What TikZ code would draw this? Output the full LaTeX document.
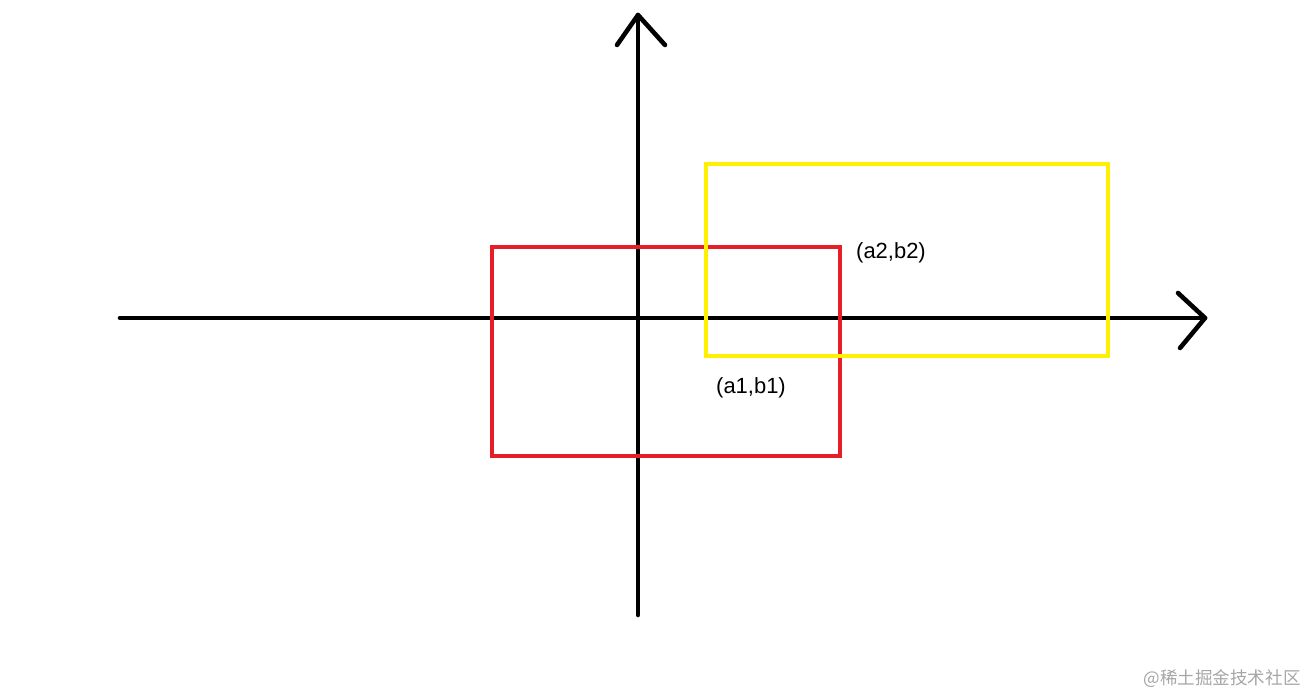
\documentclass[tikz,border=0pt]{standalone}
\usepackage{fontspec}
\setmainfont{Liberation Sans}
\newfontfamily\cjkfont{Noto Sans CJK SC}
\usetikzlibrary{positioning}
\tikzset{
axisline/.style = {draw=black, line width=2.6pt, line cap=round, line join=round},
redbox/.style = {draw={rgb,255:red,230;green,30;blue,40}, line width=2.6pt},
yellowbox/.style = {draw={rgb,255:red,255;green,240;blue,0}, line width=2.6pt},
ptlabel/.style = {font=\fontsize{12.5}{14}\selectfont, inner sep=1pt},
mark_w/.style = {font=\cjkfont\fontsize{10}{12}\selectfont, text=black!35, inner sep=0pt}
}
\begin{document}
\begin{tikzpicture}[x=0.02cm, y=0.02cm]
	\useasboundingbox (0,0) rectangle (1310,696);
	% axes
	\coordinate (xl) at (120,378);
	\coordinate (xr) at (1205,378);
	\coordinate (yb) at (638,81);
	\coordinate (yt) at (638,681);
	\draw [axisline] (xl) -- (xr);
	\draw [axisline] (yb) -- (yt);
	\draw [axisline] (yt) ++(-21,-30) -- (yt) -- ++(27,-30);
	\draw [axisline] (xr) ++(-27,25) -- (xr) -- ++(-25,-30);
	% boxes
	\draw [redbox] (492,240) rectangle (840,449);
	\draw [yellowbox] (706,340) rectangle (1108,532);
	% labels
	\node [ptlabel] (p2) at (891,443) {(a2,b2)};
	\node [ptlabel] (p1) at (751,308) {(a1,b1)};
	\node [mark_w, anchor=east] (wm) at (1301,17) {@稀土掘金技术社区};
\end{tikzpicture}
\end{document}
